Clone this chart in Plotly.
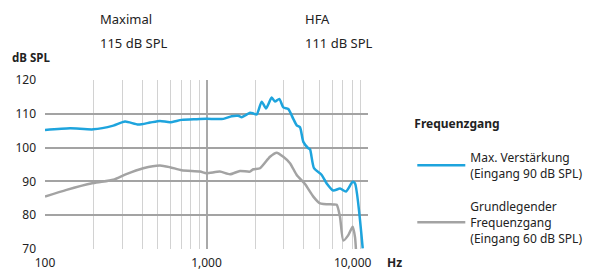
import plotly.graph_objects as go

# --- data ---
freq_max = [100, 143, 199, 265, 313, 378, 447, 515, 594, 702, 870, 1000, 1271, 1432, 1573,
            1652, 1859, 1949, 2046, 2197, 2336, 2533, 2656, 2824, 2989, 3209, 3446, 3619,
            3794, 3977, 4270, 4374, 4630, 5169, 5550, 6098, 6709, 7307, 8040, 8309, 9273]
db_max = [105.2, 105.7, 105.4, 106.5, 107.7, 106.8, 107.4, 107.9, 107.5, 108.2, 108.4, 108.5,
          108.5, 109.3, 109.4, 109.0, 110.3, 110.1, 109.8, 113.6, 111.6, 114.8, 113.6, 114.4,
          111.9, 111.4, 108.5, 106.6, 106.0, 101.7, 99.8, 99.5, 93.9, 91.9, 89.4, 87.3, 87.9,
          87.0, 89.9, 89.4, 70.2]

freq_basic = [100, 136, 199, 265, 313, 406, 515, 594, 702, 912, 1000, 1210, 1398, 1612, 1859,
              1949, 2145, 2474, 2721, 2989, 3289, 3619, 4073, 4585, 5044, 6098, 6402, 6709,
              7033, 7551, 8040, 8309, 8430]
db_basic = [85.5, 87.5, 89.5, 90.5, 92.0, 93.9, 94.7, 94.2, 93.3, 92.9, 92.4, 92.9, 92.1, 93.1,
            92.9, 93.6, 93.9, 97.3, 98.5, 97.3, 95.4, 91.9, 89.2, 85.5, 83.5, 83.2, 83.1, 79.5,
            72.5, 74.1, 76.6, 73.5, 69.5]

series_names = ["Max. Verstärkung<br>(Eingang 90 dB SPL)",
                "Grundlegender<br>Frequenzgang<br>(Eingang 60 dB SPL)"]
x_tickvals = [100, 1000, 10000]
x_ticktext = ["100", "1,000", "10,000" + "&nbsp;" * 5 + "<b>Hz</b>"]
y_tickvals = [70, 80, 90, 100, 110, 120]

FONT = "Noto Sans"
TXT = "#222222"
BLUE = "#1ea4dd"
GREY = "#a3a3a3"

fig = go.Figure()
fig.add_trace(go.Scatter(x=freq_max, y=db_max, mode="lines", name=series_names[0],
                         legendgroup="a",
                         line=dict(color=BLUE, width=2.5, shape="spline", smoothing=0.6)))
fig.add_trace(go.Scatter(x=freq_basic, y=db_basic, mode="lines", name=series_names[1],
                         legendgroup="b",
                         line=dict(color=GREY, width=2.5, shape="spline", smoothing=0.6)))

fig.update_layout(
    width=589, height=270,
    margin=dict(l=45, r=221, t=80, b=21, autoexpand=False),
    paper_bgcolor="white", plot_bgcolor="white",
    font=dict(family=FONT, size=12, color=TXT),
    showlegend=True,
    legend=dict(
        xref="container", yref="container",
        x=0.700, xanchor="left", y=0.585, yanchor="top",
        title=dict(text="<b>Frequenzgang</b><br> ", side="top", font=dict(size=12)),
        font=dict(size=12, color=TXT),
        itemwidth=48, tracegroupgap=15, valign="middle",
        maxheight=1, bgcolor="rgba(0,0,0,0)",
    ),
    xaxis=dict(
        type="log", range=[2, 4],
        tickvals=x_tickvals, ticktext=x_ticktext,
        showgrid=True, gridcolor="#a9a9a9", gridwidth=1.5,
        minor=dict(dtick="D1", showgrid=True, gridcolor="#d2d2d2", gridwidth=1),
        showline=False, zeroline=False, ticks="",
        ticklabelstandoff=5,
        tickfont=dict(size=12, color=TXT), automargin=False,
    ),
    yaxis=dict(
        range=[70, 120], tickvals=y_tickvals,
        showgrid=True, gridcolor="#a3a3a3", gridwidth=1.5,
        showline=False, zeroline=False, ticks="",
        ticklabelstandoff=8,
        tickfont=dict(size=12, color=TXT), automargin=False,
    ),
    annotations=[
        dict(text="<b>dB SPL</b>", xref="paper", yref="paper", x=-0.108, y=1.136,
             xanchor="left", yanchor="middle", showarrow=False, font=dict(size=11.5)),
        dict(text="Maximal", xref="paper", yref="paper", x=0.164, y=1.358,
             xanchor="left", yanchor="middle", showarrow=False, font=dict(size=13)),
        dict(text="115 dB SPL", xref="paper", yref="paper", x=0.164, y=1.219,
             xanchor="left", yanchor="middle", showarrow=False, font=dict(size=13)),
        dict(text="HFA", xref="paper", yref="paper", x=0.80, y=1.358,
             xanchor="left", yanchor="middle", showarrow=False, font=dict(size=13)),
        dict(text="111 dB SPL", xref="paper", yref="paper", x=0.80, y=1.219,
             xanchor="left", yanchor="middle", showarrow=False, font=dict(size=13)),
    ],
)

fig.write_html("out.html", config={"displayModeBar": False},
               post_script="document.body.style.margin='0';document.body.style.overflow='hidden';")
